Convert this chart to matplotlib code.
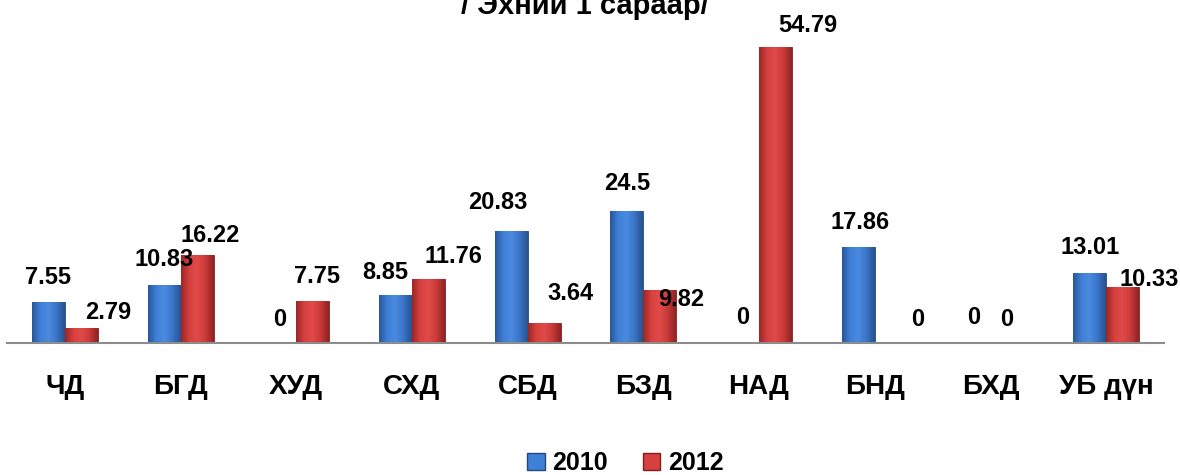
import numpy as np
import matplotlib.pyplot as plt
from matplotlib.colors import LinearSegmentedColormap
from matplotlib.patches import Patch

plt.rcParams['font.family'] = ['Liberation Sans', 'DejaVu Sans']
plt.rcParams['font.weight'] = 'bold'

# data
districts = ['ЧД', 'БГД', 'ХУД', 'СХД', 'СБД', 'БЗД', 'НАД', 'БНД', 'БХД', 'УБ дүн']
v2010 = [7.55, 10.83, 0, 8.85, 20.83, 24.5, 0, 17.86, 0, 13.01]
v2012 = [2.79, 16.22, 7.75, 11.76, 3.64, 9.82, 54.79, 0, 0, 10.33]
years = ['2010', '2012']

# label nudges in pixels (dx, dy to label centre)
off2010 = [(0, 25), (0, 25), (0, 24), (-10, 23), (-13, 28), (0, 27), (0, 26), (2, 24), (0, 26), (0, 25)]
off2012 = [(27, 15), (13, 20), (4, 25), (25, 23), (26, 30), (21, -10), (32, 22), (26, 23), (0, 23), (27, 8)]

blue_cm = LinearSegmentedColormap.from_list('b', ['#28569c', '#3f7fd6', '#4a8ae0', '#3a74c8', '#27538f'])
red_cm = LinearSegmentedColormap.from_list('r', ['#9c2626', '#d6403e', '#e04a48', '#c83a38', '#8f2424'])

fig = plt.figure(figsize=(11.8, 4.75), dpi=100)
ax = fig.add_axes([7 / 1180, 132 / 475, 1157 / 1180, 324 / 475])

x = np.arange(len(districts))
w = 0.285
grad = np.linspace(0, 1, 64).reshape(1, -1)


def shaded_bars(xs, vals, cmap, edge):
    bars = ax.bar(xs, vals, w, color=cmap(0.5), edgecolor=edge, linewidth=0.6, zorder=2)
    for b in bars:
        if b.get_height() <= 0:
            continue
        x0, y0 = b.get_x(), b.get_y()
        im = ax.imshow(grad, cmap=cmap, aspect='auto', zorder=2.5,
                       extent=(x0, x0 + b.get_width(), y0, y0 + b.get_height()))
        im.set_clip_path(b)
    return bars


shaded_bars(x - w / 2, v2010, blue_cm, '#21487f')
shaded_bars(x + w / 2, v2012, red_cm, '#7f1f1f')

for i in range(len(districts)):
    for xs, v, off in ((x[i] - w / 2, v2010[i], off2010[i]), (x[i] + w / 2, v2012[i], off2012[i])):
        ax.annotate(f'{v:g}', (xs, v), xytext=off, textcoords='offset pixels',
                    ha='center', va='center', fontsize=17, fontweight='bold', zorder=5)

ax.set_xlim(-0.5, 9.5)
ax.set_ylim(0, 60)
ax.set_xticks(x)
ax.set_xticklabels(districts, fontsize=20, fontweight='bold')
ax.tick_params(axis='x', length=0, pad=22)
ax.set_yticks([])
for s in ['top', 'right', 'left']:
    ax.spines[s].set_visible(False)
ax.spines['bottom'].set_color('#8c8c8c')
ax.spines['bottom'].set_linewidth(1.5)

# legend
handles = [Patch(facecolor='#3f7fd6', edgecolor='#21487f'), Patch(facecolor='#d6403e', edgecolor='#7f1f1f')]
fig.legend(handles, years, loc='center', bbox_to_anchor=(0.53, 1 - 463 / 475), ncol=2, frameon=False,
           prop={'size': 18, 'weight': 'bold'}, handlelength=0.7, handleheight=0.7,
           handletextpad=0.3, columnspacing=1.4)

# title, cut off at the top like in the original
fig.text(585 / 1180, 1 - 14 / 475, '/ Эхний 1 сараар/', ha='center', va='baseline',
         fontsize=21, fontweight='bold')

fig.savefig('out.png', dpi=100)
